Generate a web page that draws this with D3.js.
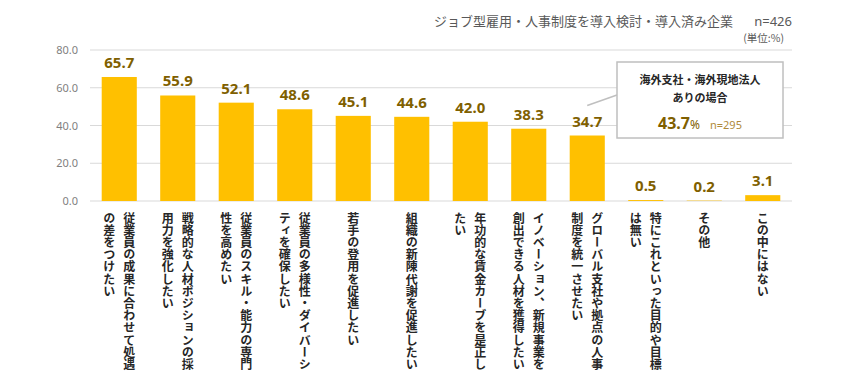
<!DOCTYPE html>
<html><head><meta charset="utf-8">
<script src="https://cdn.jsdelivr.net/npm/d3@7"></script>
<style>
html,body{margin:0;padding:0;background:#fff;}
svg{display:block;font-family:"Noto Sans CJK JP","Noto Sans",sans-serif;}
</style></head>
<body>
<svg id="chart" width="846" height="390"></svg>
<script>
const categories = [
  "従業員の成果に合わせて処遇|の差をつけたい",
  "戦略的な人材ポジションの採|用力を強化したい",
  "従業員のスキル・能力の専門|性を高めたい",
  "従業員の多様性・ダイバーシ|ティを確保したい",
  "若手の登用を促進したい",
  "組織の新陳代謝を促進したい",
  "年功的な賃金カーブを是正し|たい",
  "イノベーション、新規事業を|創出できる人材を獲得したい",
  "グローバル支社や拠点の人事|制度を統一させたい",
  "特にこれといった目的や目標|は無い",
  "その他",
  "この中にはない"
];
const values = [65.7, 55.9, 52.1, 48.6, 45.1, 44.6, 42.0, 38.3, 34.7, 0.5, 0.2, 3.1];
const yTicks = [0, 20, 40, 60, 80];
const titleText = "ジョブ型雇用・人事制度を導入検討・導入済み企業";
const nText = "n=426";
const unitText = "(単位:%)";
const calloutLines = ["海外支社・海外現地法人", "ありの場合"];
const calloutValue = 43.7;
const calloutN = "n=295";
const calloutIndex = 8;

const svg = d3.select("#chart");
const x = d3.scaleBand().domain(d3.range(categories.length)).range([90, 792]).paddingInner(0.4).paddingOuter(0.2);
const y = d3.scaleLinear().domain([0, 80]).range([201, 50]);

// grid
svg.append("g").selectAll("line").data(yTicks).join("line")
  .attr("x1", 90).attr("x2", 792)
  .attr("y1", d => y(d)).attr("y2", d => y(d))
  .attr("stroke", "#d9d9d9").attr("stroke-width", 1);

// y axis
const yAxis = svg.append("g").attr("transform", "translate(78,0)")
  .call(d3.axisLeft(y).tickValues(yTicks).tickFormat(d3.format(".1f")).tickSize(0).tickPadding(0));
yAxis.select(".domain").remove();
yAxis.selectAll("text").attr("fill", "#7f7f7f").style("font-size", "11px").style("font-family", "'Noto Sans',sans-serif");

// bars
svg.append("g").selectAll("rect").data(values).join("rect")
  .attr("x", (d, i) => x(i)).attr("width", x.bandwidth())
  .attr("y", d => y(d)).attr("height", d => y(0) - y(d))
  .attr("fill", "#ffc000");

// value labels
svg.append("g").selectAll("text").data(values).join("text")
  .attr("x", (d, i) => x(i) + x.bandwidth() / 2)
  .attr("y", d => y(d) - 9)
  .attr("text-anchor", "middle")
  .attr("fill", "#7f5f00")
  .style("font-family", "'Noto Sans',sans-serif")
  .style("font-size", "15px").style("font-weight", "bold")
  .text(d => d.toFixed(1));

// category labels (vertical)
const lab = svg.append("g");
categories.forEach((c, i) => {
  const lines = c.split("|");
  const cx = x(i) + x.bandwidth() / 2;
  const n = lines.length;
  lines.forEach((ln, j) => {
    const off = (n - 1) * 10 - j * 20;
    lab.append("text")
      .attr("x", cx + off).attr("y", 212)
      .style("writing-mode", "vertical-rl")
      .style("font-size", "12px").style("font-weight", "bold")
      .style("letter-spacing", "0.2px")
      .attr("fill", "#262626")
      .text(ln);
  });
});

// title
svg.append("text").attr("x", 733).attr("y", 26).attr("text-anchor", "end")
  .attr("fill", "#595959").style("font-size", "13px").text(titleText);
svg.append("text").attr("x", 792).attr("y", 26).attr("text-anchor", "end")
  .attr("fill", "#595959").style("font-size", "13px").style("font-family", "'Noto Sans',sans-serif").text(nText);
svg.append("text").attr("x", 784).attr("y", 42).attr("text-anchor", "end")
  .attr("fill", "#595959").style("font-size", "10.5px").text(unitText);

// callout
const bx = 617, by = 62, bw = 166, bh = 76;
const lx = x(calloutIndex) + x.bandwidth() / 2;
svg.append("line").attr("x1", lx).attr("y1", y(values[calloutIndex]) - 30)
  .attr("x2", bx).attr("y2", 95).attr("stroke", "#bfbfbf").attr("stroke-width", 1.5);
svg.append("rect").attr("x", bx).attr("y", by).attr("width", bw).attr("height", bh)
  .attr("fill", "#fff").attr("stroke", "#bfbfbf").attr("stroke-width", 1.5);
calloutLines.forEach((t, i) => {
  svg.append("text").attr("x", bx + bw / 2).attr("y", by + 22 + i * 18)
    .attr("text-anchor", "middle").attr("fill", "#262626")
    .style("font-size", "11px").style("font-weight", "bold").text(t);
});
const ct = svg.append("text").attr("x", bx + bw / 2).attr("y", by + 67).attr("text-anchor", "middle")
  .style("font-family", "'Noto Sans',sans-serif");
ct.append("tspan").attr("fill", "#7f5f00").style("font-size", "16px").style("font-weight", "bold").text(calloutValue.toFixed(1));
ct.append("tspan").attr("fill", "#7f5f00").style("font-size", "12px").text("%");
ct.append("tspan").attr("dx", 10).attr("fill", "#b08a3a").style("font-size", "11px").text(calloutN);
</script>
</body></html>
